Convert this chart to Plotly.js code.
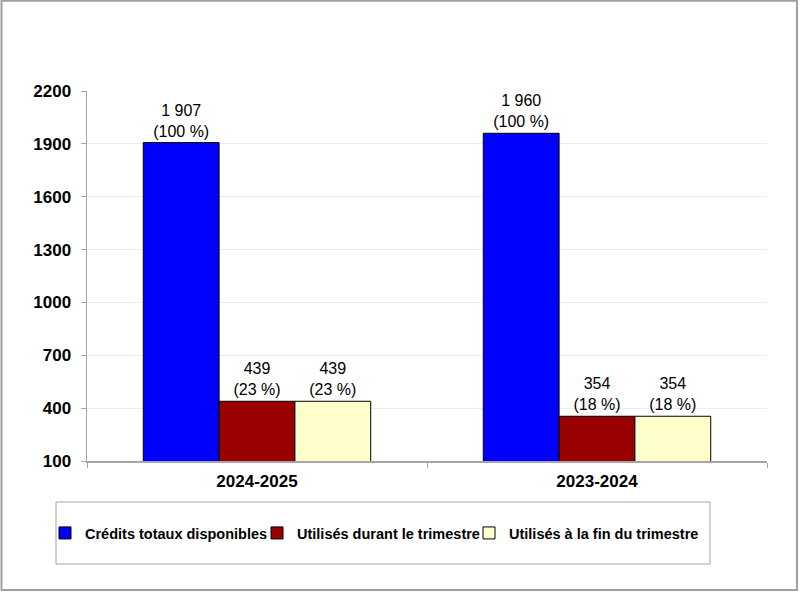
<!DOCTYPE html>
<html>
<head>
<meta charset="utf-8">
<script src="https://cdn.plot.ly/plotly-3.0.1.min.js"></script>
<style>html,body{margin:0;padding:0;background:#fff;}#chart{width:800px;height:592px;}</style>
</head>
<body>
<div id="chart"></div>
<script>
var categories = ["2024-2025", "2023-2024"];
var seriesNames = ["Crédits totaux disponibles", "Utilisés durant le trimestre", "Utilisés à la fin du trimestre"];
var creditsTotaux = [1907, 1960];
var utilisesDurant = [439, 354];
var utilisesFin = [439, 354];
var pctCredits = [100, 100];
var pctDurant = [23, 18];
var pctFin = [23, 18];
var yTicks = [100, 400, 700, 1000, 1300, 1600, 1900, 2200];

var colors = ["#0000FF", "#990000", "#FFFFCC"];
var valuesList = [creditsTotaux, utilisesDurant, utilisesFin];
var pctList = [pctCredits, pctDurant, pctFin];
var legendIds = ["legend", "legend2", "legend3"];

var traces = valuesList.map(function (vals, i) {
  return {
    type: "bar",
    name: seriesNames[i],
    legend: legendIds[i],
    x: categories,
    y: vals,
    customdata: pctList[i],
    texttemplate: "%{y:,}<br>(%{customdata} %)",
    textposition: "outside",
    cliponaxis: false,
    textfont: {family: "Liberation Sans, Arial, sans-serif", size: 16, color: "#000"},
    marker: {color: colors[i], line: {color: "#000", width: 1}},
    hoverinfo: "none"
  };
});

var W = 680, H = 370, L = 87, T = 91;
function px(x) { return (x - L) / W; }
function py(y) { return (T + H - y) / H; }

function legendAt(xpx) {
  return {
    orientation: "h",
    x: px(xpx), xanchor: "left",
    y: py(533), yanchor: "middle",
    bgcolor: "rgba(0,0,0,0)",
    borderwidth: 0,
    font: {size: 14.5, weight: 700, color: "#000"}
  };
}

var layout = {
  width: 800, height: 592,
  margin: {l: L, r: 800 - L - W, t: T, b: 592 - T - H},
  paper_bgcolor: "#fff", plot_bgcolor: "#fff",
  separators: ", ",
  barmode: "group",
  bargap: 0.331,
  bargroupgap: 0,
  font: {family: "Liberation Sans, Arial, sans-serif", color: "#000"},
  xaxis: {
    type: "category",
    showline: true, linecolor: "#a6a6a6", linewidth: 1.5,
    ticks: "outside", tickson: "boundaries", ticklen: 5, tickcolor: "#a6a6a6",
    ticklabelstandoff: 4,
    tickfont: {size: 17, weight: 700, color: "#000"},
    showgrid: false
  },
  yaxis: {
    range: [100, 2200],
    tickvals: yTicks,
    showline: true, linecolor: "#a6a6a6", linewidth: 1.5,
    ticks: "outside", ticklen: 5, tickcolor: "#a6a6a6",
    ticklabelstandoff: 6,
    tickfont: {size: 17, weight: 700, color: "#000"},
    gridcolor: "#ececec", gridwidth: 1,
    zeroline: false
  },
  showlegend: true,
  legend: legendAt(45),
  legend2: legendAt(257),
  legend3: legendAt(469),
  shapes: [
    {type: "rect", xref: "paper", yref: "paper",
     x0: px(56), x1: px(710), y0: py(502), y1: py(564),
     line: {color: "#a6a6a6", width: 1}, fillcolor: "rgba(0,0,0,0)", layer: "below"},
    {type: "rect", xref: "paper", yref: "paper",
     x0: px(1.5), x1: px(797), y0: py(0.8), y1: py(590),
     line: {color: "#a0a0a0", width: 2}, fillcolor: "rgba(0,0,0,0)", layer: "below"}
  ]
};

Plotly.newPlot("chart", traces, layout, {staticPlot: true, displayModeBar: false});
</script>
</body>
</html>
